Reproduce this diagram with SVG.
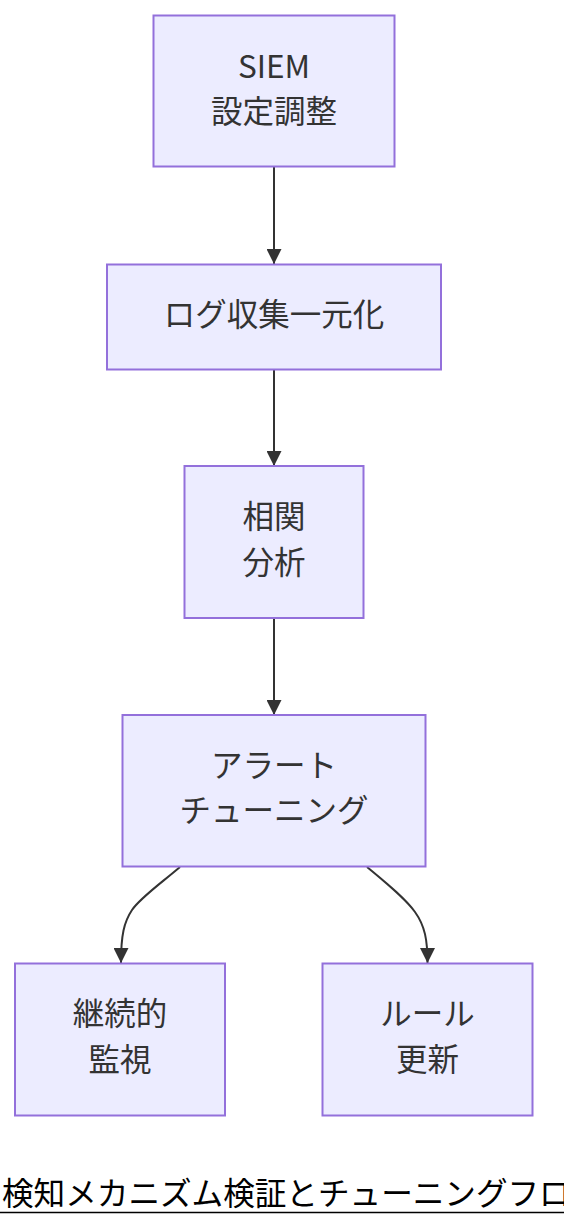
<svg xmlns="http://www.w3.org/2000/svg" width="564" height="1228" viewBox="0 0 564 1228">
<style>
.node rect{fill:#ECECFF;stroke:#9370DB;stroke-width:2}
.node text{font-family:"Noto Sans CJK JP","Noto Sans",sans-serif;font-size:31.5px;fill:#333;text-anchor:middle}
.edge{fill:none;stroke:#333;stroke-width:2}
.cap{font-family:"Noto Sans CJK JP","Noto Sans",sans-serif;font-size:31.6px;fill:#000}
</style>
<defs>
<marker id="arr" viewBox="0 0 10 10" refX="10" refY="5" markerUnits="userSpaceOnUse" markerWidth="15" markerHeight="15" orient="auto">
<path d="M0,0 L10,5 L0,10 z" fill="#333"/>
</marker>
</defs>
<rect width="564" height="1228" fill="#fff"/>
<g id="edges">
<path class="edge" d="M274,167 L274,264" marker-end="url(#arr)"/>
<path class="edge" d="M274,370 L274,466" marker-end="url(#arr)"/>
<path class="edge" d="M274,618 L274,715" marker-end="url(#arr)"/>
<path class="edge" d="M180,867 C160,884 140,898 132,910 C124,922 121,935 121,963" marker-end="url(#arr)"/>
<path class="edge" d="M367,867 C385,882 405,898 415,912 C425,926 427.5,940 427.5,963" marker-end="url(#arr)"/>
</g>
<g id="siem" class="node">
<rect x="153.5" y="15.5" width="241" height="151"/>
<text x="274" y="77.5">SIEM</text>
<text x="274" y="123">設定調整</text>
</g>
<g id="log" class="node">
<rect x="107" y="264.5" width="334" height="105"/>
<text x="274" y="325.5">ログ収集一元化</text>
</g>
<g id="corr" class="node">
<rect x="184.5" y="466" width="179" height="152"/>
<text x="274" y="528">相関</text>
<text x="274" y="573.5">分析</text>
</g>
<g id="tune" class="node">
<rect x="122.5" y="715" width="303" height="151.5"/>
<text x="274" y="776.5">アラート</text>
<text x="274" y="822">チューニング</text>
</g>
<g id="mon" class="node">
<rect x="15" y="963.5" width="210" height="152"/>
<text x="120" y="1025">継続的</text>
<text x="120" y="1071">監視</text>
</g>
<g id="rule" class="node">
<rect x="322.5" y="963.5" width="210" height="152"/>
<text x="427.5" y="1025">ルール</text>
<text x="427.5" y="1071">更新</text>
</g>
<g id="caption">
<text class="cap" x="2" y="1205">検知メカニズム検証とチューニングフロー</text>
<line x1="0" y1="1212.5" x2="564" y2="1212.5" stroke="#000" stroke-width="1.6"/>
</g>
</svg>
